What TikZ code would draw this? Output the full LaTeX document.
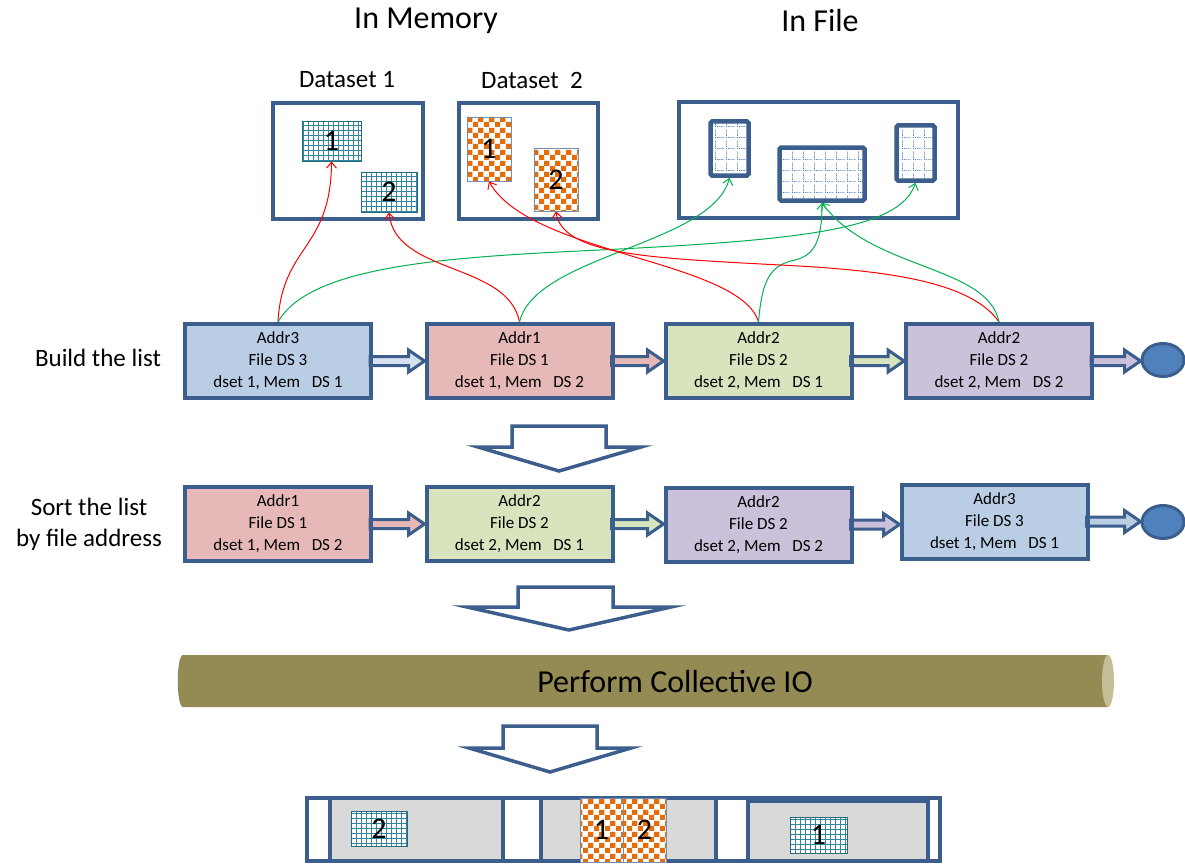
\documentclass[tikz,border=0pt]{standalone}
\usepackage{fontspec}
\setmainfont{Carlito}
\usetikzlibrary{arrows.meta,calc,shapes.geometric,patterns.meta}
\definecolor{frameblue}{HTML}{3C5E8C}
\definecolor{bbox}{HTML}{B9CDE5}
\definecolor{pbox}{HTML}{E6B9B8}
\definecolor{gbox}{HTML}{D7E4BD}
\definecolor{vbox}{HTML}{CCC1DA}
\definecolor{teal}{HTML}{31859C}
\definecolor{orng}{HTML}{E46C0A}
\definecolor{dotblue}{HTML}{4F81BD}
\definecolor{cyl}{HTML}{948A54}
\definecolor{cylend}{HTML}{C4BD97}
\definecolor{lgray}{HTML}{D9D9D9}
\definecolor{cred}{HTML}{FF0000}
\definecolor{cgreen}{HTML}{00B050}
\tikzdeclarepattern{name=chk, type=uncolored, bounding box={(0pt,0pt) and (11pt,11pt)}, tile size={(11pt,11pt)},
  code={\fill (0pt,0pt) rectangle (5.5pt,5.5pt); \fill (5.5pt,5.5pt) rectangle (11pt,11pt);}}
\tikzdeclarepattern{name=dgrd, type=uncolored, bounding box={(0pt,0pt) and (11pt,11pt)}, tile size={(11pt,11pt)},
  code={\foreach \k in {0,2,4,6,8}{\fill (\k pt,0pt) rectangle ++(1pt,0.9pt); \fill (0pt,\k pt) rectangle ++(0.9pt,1pt);}}}
\begin{document}
\begin{tikzpicture}[x=1pt,y=-1pt,
  frame/.style={draw=frameblue, line width=4.5pt},
  dsbox/.style={frame, rectangle, inner sep=0pt},
  tgridbox/.style={draw=teal!80!black, line width=0.8pt, fill=white, inner sep=0pt, font=\fontsize{30}{30}\selectfont,
    path picture={\draw[teal, line width=1.05pt, step=5pt] (path picture bounding box.south west) grid (path picture bounding box.north east);}},
  chkbox/.style={draw=frameblue!70, line width=0.8pt, preaction={fill=white}, pattern=chk, pattern color=orng, inner sep=0pt, font=\fontsize{30}{30}\selectfont},
  fbox/.style={draw=frameblue, line width=4.5pt, rounded corners=1.5pt, preaction={fill=white}, pattern=dgrd, pattern color=dotblue, inner sep=0pt},
  lbox/.style={draw=frameblue, line width=4pt, minimum width=186pt, minimum height=74pt, align=center, inner sep=0pt, font=\fontsize{17}{22}\selectfont},
  blockarr/.style={draw=frameblue, line width=3pt, line join=miter},
  downarr/.style={draw=frameblue, line width=3.5pt, fill=white, line join=miter},
  redc/.style={draw=cred, line width=1pt, -{Straight Barb[length=6pt,width=10pt]}},
  grnc/.style={draw=cgreen, line width=1pt, -{Straight Barb[length=6pt,width=10pt]}},
  title/.style={font=\fontsize{32}{32}\selectfont},
  sub/.style={font=\fontsize{25}{25}\selectfont},
  side/.style={font=\fontsize{25}{31}\selectfont, align=center}
]
\useasboundingbox (0,0) rectangle (1185,864);

% titles
\node[title] (tmem) at (426,21) {In Memory};
\node[title] (tfile) at (820,21) {In File};
\node[sub] (tds1) at (347,80) {Dataset 1};
\node[sub] (tds2) at (532,80) {Dataset~~2};

% dataset boxes
\node[dsbox, minimum width=150pt, minimum height=116pt] (ds1) at (348,161) {};
\node[dsbox, minimum width=139pt, minimum height=116pt] (ds2) at (528.5,161) {};
\node[dsbox, minimum width=279pt, minimum height=116pt] (inf) at (818.5,160) {};

\node[tgridbox, minimum width=59pt, minimum height=40pt] (d11) at (331.5,141) {1};
\node[tgridbox, minimum width=56pt, minimum height=40pt] (d12) at (389,192) {2};
\node[chkbox, minimum width=44pt, minimum height=64pt] (d21) at (489,149) {1};
\node[chkbox, minimum width=44pt, minimum height=63pt] (d22) at (556,179.5) {2};

\node[fbox, minimum width=38pt, minimum height=54pt] (f1) at (729.5,148.5) {};
\node[fbox, minimum width=85pt, minimum height=53pt] (f2) at (822,174) {};
\node[fbox, minimum width=38pt, minimum height=55pt] (f3) at (915.5,153) {};

% row 1
\node[side] (lb1) at (98,358) {Build the list};
\node[lbox, fill=bbox] (r1a) at (278,361) {Addr3\\File DS 3\\dset 1, Mem~~~DS 1};
\node[lbox, fill=pbox] (r1b) at (519.5,361) {Addr1\\File DS 1\\dset 1, Mem~~~DS 2};
\node[lbox, fill=gbox] (r1c) at (758.5,361) {Addr2\\File DS 2\\dset 2, Mem~~~DS 1};
\node[lbox, fill=vbox] (r1d) at (999,361) {Addr2\\File DS 2\\dset 2, Mem~~~DS 2};
\node[ellipse, draw=frameblue, line width=3pt, fill=dotblue, minimum width=42pt, minimum height=33pt, inner sep=0pt] (e1) at (1163,360) {};

% row 2
\node[side] (lb2) at (89,524) {Sort the list\\by file address};
\node[lbox, fill=pbox] (r2a) at (278,524) {Addr1\\File DS 1\\dset 1, Mem~~~DS 2};
\node[lbox, fill=gbox] (r2b) at (519.5,524) {Addr2\\File DS 2\\dset 2, Mem~~~DS 1};
\node[lbox, fill=vbox] (r2c) at (758.5,524.5) {Addr2\\File DS 2\\dset 2, Mem~~~DS 2};
\node[lbox, fill=bbox] (r2d) at (994.5,521.5) {Addr3\\File DS 3\\dset 1, Mem~~~DS 1};
\node[ellipse, draw=frameblue, line width=3pt, fill=dotblue, minimum width=42pt, minimum height=33pt, inner sep=0pt] (e2) at (1163,522) {};

% horizontal block arrows
\newcommand\harr[3]{%
  \draw[blockarr, fill=#3] let \p1=(#1.east), \p2=(#2.west) in
    (\x1-3pt,\y1-4.5pt) -- (\x2-16pt,\y1-4.5pt) -- (\x2-16pt,\y1-11pt) -- (\x2,\y1)
    -- (\x2-16pt,\y1+11pt) -- (\x2-16pt,\y1+4.5pt) -- (\x1-3pt,\y1+4.5pt) -- cycle;}
\harr{r1a}{r1b}{bbox!60!white}
\harr{r1b}{r1c}{pbox}
\harr{r1c}{r1d}{gbox}
\harr{r1d}{e1}{vbox}
\harr{r2a}{r2b}{pbox}
\harr{r2b}{r2c}{gbox}
\harr{r2c}{r2d}{vbox}
\harr{r2d}{e2}{bbox}
% redraw boxes' borders over arrow starts
\foreach \n in {r1a,r1b,r1c,r1d,r2a,r2b,r2c,r2d}{
  \draw[draw=frameblue, line width=4pt] (\n.north west) ++(2pt,-2pt) rectangle ($(\n.south east)+(-2pt,2pt)$);
}

% down block arrows
\draw[downarr] (512,426) -- (606,426) -- (606,447) -- (641,447) -- (559,471) -- (478,447) -- (512,447) -- cycle;
\draw[downarr] (518,587) -- (613,587) -- (613,607) -- (671,607) -- (569,630) -- (467,607) -- (518,607) -- cycle;
\draw[downarr] (503,726) -- (597,726) -- (597,748) -- (631,748) -- (550,772) -- (469,748) -- (503,748) -- cycle;

% cylinder
\fill[cyl] (183,655) .. controls (176,655) and (176,707) .. (183,707) -- (1108,707) -- (1108,655) -- cycle;
\fill[cylend] (1108,681) ellipse [x radius=6, y radius=26];
\node[title] (cio) at (675,681) {Perform Collective IO};

% bottom strip
\draw[frame, line width=4pt, fill=white] (307,798) rectangle (940,861);
\draw[frame, line width=4pt, fill=lgray] (330,798) rectangle (503,861);
\draw[frame, line width=4pt, fill=lgray] (541,798) rectangle (716,861);
\draw[frame, line width=4pt, fill=lgray] (748,801) rectangle (928,861);
\node[chkbox, minimum width=43pt, minimum height=64pt] (b1) at (601.5,830) {1};
\node[chkbox, minimum width=43pt, minimum height=64pt] (b2) at (644.5,830) {2};
\node[tgridbox, minimum width=56pt, minimum height=35pt] (b3) at (379,828.5) {2};
\node[tgridbox, minimum width=57pt, minimum height=36pt] (b4) at (818.5,835) {1};

% connectors
\draw[redc] (r1a.north) .. controls (282,245) and (331,250) .. (d11.south);
\draw[grnc] (r1a.north) .. controls (310,265) and (450,257) .. (600,250) .. controls (800,240) and (900,230) .. (f3.south);
\draw[redc] (r1b.north) .. controls (508,262) and (395,275) .. (d12.south);
\draw[grnc] (r1b.north) .. controls (535,255) and (712,245) .. (f1.south);
\draw[redc] (r1c.north) .. controls (740,260) and (530,255) .. (d21.south);
\draw[grnc] (r1c.north) .. controls (762,280) and (770,265) .. (795,260) .. controls (815,255) and (822,240) .. (f2.south);
\draw[redc] (r1d.north) .. controls (970,280) and (880,270) .. (780,265) .. controls (650,258) and (562,255) .. (d22.south);
\draw[grnc] (r1d.north) .. controls (988,265) and (870,270) .. (f2.south);
\end{tikzpicture}
\end{document}
